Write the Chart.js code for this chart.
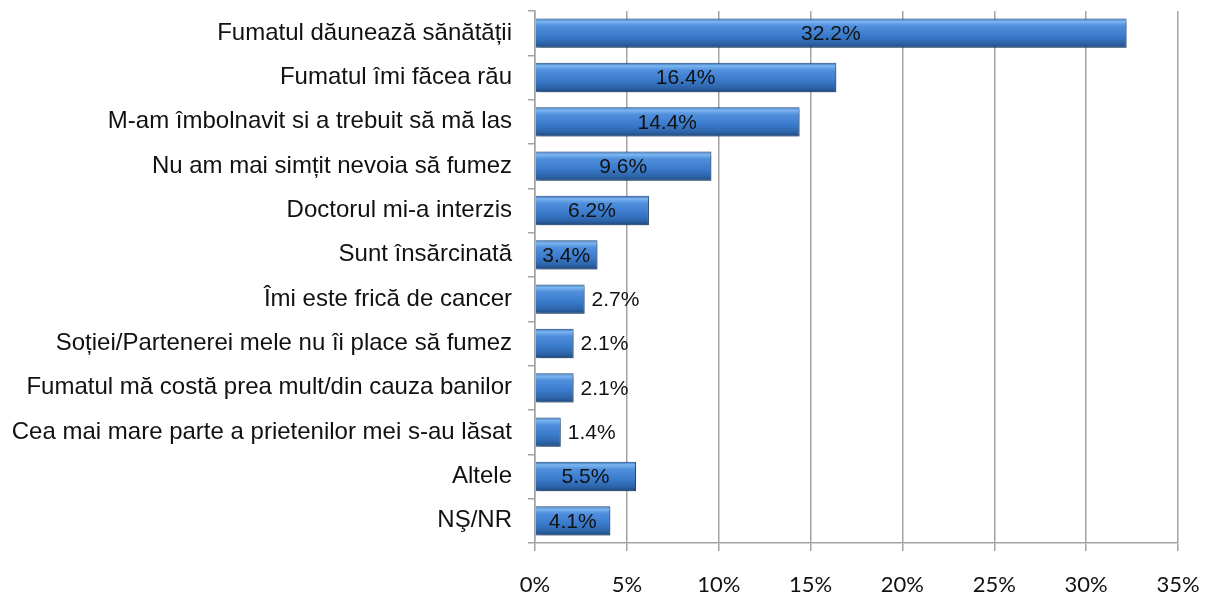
<!DOCTYPE html>
<html>
<head>
<meta charset="utf-8">
<script src="https://cdn.jsdelivr.net/npm/chart.js@4"></script>
<style>
    html, body { margin: 0; padding: 0; background: #fff; }
    #wrap { width: 1205px; height: 595px; position: relative; }
</style>
</head>
<body>
<div id="wrap"><canvas id="reasons"></canvas></div>
<script>
// Reasons for quitting smoking (%)
const categories = [
    'Fumatul dăunează sănătății',
    'Fumatul îmi făcea rău',
    'M-am îmbolnavit si a trebuit să mă las',
    'Nu am mai simțit nevoia să fumez',
    'Doctorul mi-a interzis',
    'Sunt însărcinată',
    'Îmi este frică de cancer',
    'Soției/Partenerei mele nu îi place să fumez',
    'Fumatul mă costă prea mult/din cauza banilor',
    'Cea mai mare parte a prietenilor mei s-au lăsat',
    'Altele',
    'NŞ/NR'
];
const values = [32.2, 16.4, 14.4, 9.6, 6.2, 3.4, 2.7, 2.1, 2.1, 1.4, 5.5, 4.1];
const xTicks = [0, 5, 10, 15, 20, 25, 30, 35];

const BAR_PCT = 0.66;
const INSIDE_MIN = 3; // values below this get their label outside the bar
const gridColor = '#a3a3a3';

// vertical gradient for the bevelled bars
function barFill(context) {
    const chart = context.chart;
    const yScale = chart.scales.y;
    if (!yScale || context.dataIndex === undefined) return '#3b78c4';
    const step = yScale.getPixelForValue(1) - yScale.getPixelForValue(0);
    const cy = yScale.getPixelForValue(context.dataIndex);
    if (!isFinite(step) || !isFinite(cy) || step === 0) return '#3b78c4';
    const h = step * BAR_PCT;
    const top = cy - h / 2;
    const g = chart.ctx.createLinearGradient(0, top, 0, top + h);
    g.addColorStop(0, '#2f68b0');
    g.addColorStop(0.1, '#7db6f2');
    g.addColorStop(0.25, '#4f8fdc');
    g.addColorStop(0.6, '#3a7acb');
    g.addColorStop(0.85, '#2d64a8');
    g.addColorStop(1, '#1d4780');
    return g;
}

// soft drop shadow under the bars
const shadowPlugin = {
    id: 'barShadow',
    beforeDatasetsDraw(chart) {
        const ctx = chart.ctx;
        ctx.save();
        ctx.shadowColor = 'rgba(0, 0, 0, 0.35)';
        ctx.shadowBlur = 4;
        ctx.shadowOffsetX = 2;
        ctx.shadowOffsetY = 2;
    },
    afterDatasetsDraw(chart) {
        chart.ctx.restore();
    }
};

// value labels: inside for wide bars, to the right for short ones
const valueLabels = {
    id: 'valueLabels',
    afterDraw(chart) {
        const ctx = chart.ctx;
        const meta = chart.getDatasetMeta(0);
        const x0 = chart.scales.x.getPixelForValue(0);
        ctx.save();
        ctx.font = '21px "Liberation Sans", Arial, sans-serif';
        ctx.fillStyle = '#111';
        ctx.textBaseline = 'middle';
        meta.data.forEach((bar, i) => {
            const text = values[i].toFixed(1) + '%';
            if (values[i] >= INSIDE_MIN) {
                ctx.textAlign = 'center';
                ctx.fillText(text, (x0 + bar.x) / 2, bar.y + 1);
            } else {
                ctx.textAlign = 'left';
                ctx.fillText(text, bar.x + 7, bar.y + 1);
            }
        });
        ctx.restore();
    }
};

new Chart(document.getElementById('reasons'), {
    type: 'bar',
    data: {
        labels: categories,
        datasets: [{
            data: values,
            backgroundColor: barFill,
            borderColor: '#24528c',
            borderWidth: 1,
            barPercentage: BAR_PCT,
            categoryPercentage: 1
        }]
    },
    options: {
        indexAxis: 'y',
        responsive: true,
        maintainAspectRatio: false,
        animation: false,
        layout: { padding: { top: 11, right: 27, left: 0, bottom: 0 } },
        plugins: {
            legend: { display: false },
            tooltip: { enabled: false }
        },
        scales: {
            x: {
                min: 0,
                max: 35,
                afterBuildTicks: s => { s.ticks = xTicks.map(v => ({ value: v })); },
                afterFit: s => { s.height = 52; s.paddingLeft = 0; s.paddingRight = 0; },
                grid: { color: gridColor, lineWidth: 1.5, tickLength: 8 },
                border: { color: gridColor, width: 1.5 },
                ticks: {
                    color: '#111',
                    padding: 21,
                    font: { family: 'Lato, "Open Sans", sans-serif', size: 22 },
                    callback: v => v + '%'
                }
            },
            y: {
                afterFit: s => { s.width = 535; s.paddingTop = 0; s.paddingBottom = 0; },
                grid: { drawOnChartArea: false, color: gridColor, lineWidth: 1.5, tickLength: 7, offset: true },
                border: { color: gridColor, width: 1.5 },
                ticks: {
                    color: '#111',
                    padding: 16,
                    font: { family: '"Liberation Sans", Arial, sans-serif', size: 24 }
                }
            }
        }
    },
    plugins: [shadowPlugin, valueLabels]
});
</script>
</body>
</html>
